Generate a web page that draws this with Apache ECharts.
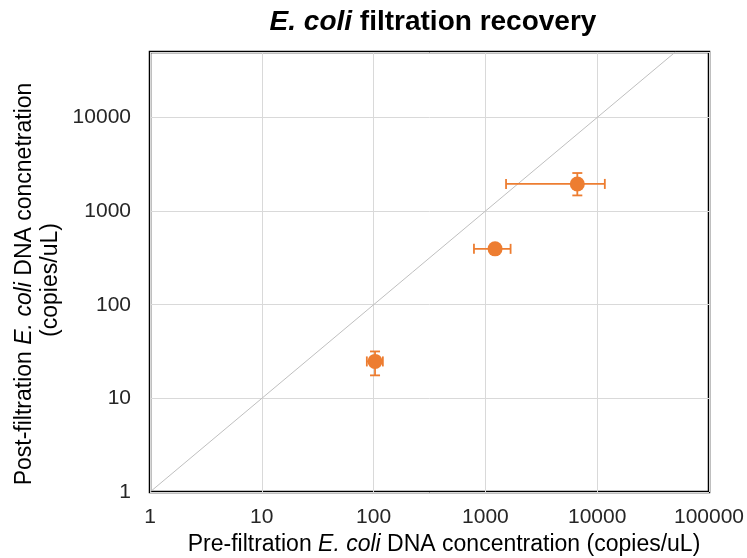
<!DOCTYPE html>
<html><head><meta charset="utf-8">
<script src="https://cdn.jsdelivr.net/npm/echarts@6/dist/echarts.min.js"></script>
<style>html,body{margin:0;padding:0;background:#fff}#c{width:747px;height:558px}</style>
</head><body><div id="c"></div>
<script>
// Data
const preConc  = [103, 1220, 6640];
const preLow   = [87, 790, 1530];
const preHigh  = [121, 1680, 11700];
const postConc = [24.8, 395, 1950];
const postLow  = [17.6, 380, 1470];
const postHigh = [31.7, 410, 2550];
const xTickLabels = ['1','10','100','1000','10000','100000'];
const yTickLabels = ['1','10','100','1000','10000'];
const identityLine = [[1, 1], [50000, 50000]];

const orange = '#ED7D31';
const font = 'Liberation Sans, Arial, sans-serif';
const txt = '#262626';

const pts = preConc.map((x, i) => [x, postConc[i]]);
const errData = preConc.map((x, i) => [x, postConc[i], preLow[i], preHigh[i], postLow[i], postHigh[i]]);

const chart = echarts.init(document.getElementById('c'));
const isPow10 = v => { const l = Math.log10(v); return Math.abs(l - Math.round(l)) < 1e-6; };

const nameRich = {
  n: { fontFamily: font, fontSize: 23, color: txt },
  i: { fontFamily: font, fontSize: 23, color: txt, fontStyle: 'italic' }
};

chart.setOption({
  animation: false,
  graphic: [
    { type: 'text', x: 433, y: 22, silent: true,
      style: { text: '{i|E. coli}{b| filtration recovery}', align: 'center', verticalAlign: 'middle',
        rich: {
          i: { fontFamily: font, fontSize: 28, fontWeight: 'bold', fontStyle: 'italic', fill: '#000' },
          b: { fontFamily: font, fontSize: 28, fontWeight: 'bold', fill: '#000' }
        } } },
    { type: 'text', x: 444, y: 545, silent: true,
      style: { text: '{n|Pre-filtration }{i|E. coli}{n| DNA concentration (copies/uL)}', align: 'center', verticalAlign: 'middle', rich: nameRich } },
    { type: 'text', x: 25, y: 284, rotation: Math.PI / 2, silent: true,
      style: { text: '{n|Post-filtration }{i|E. coli}{n| DNA concnetration}', align: 'center', verticalAlign: 'middle', rich: nameRich } },
    { type: 'text', x: 51, y: 280, rotation: Math.PI / 2, silent: true,
      style: { text: '{n|(copies/uL)}', align: 'center', verticalAlign: 'middle', rich: nameRich } }
  ],
  grid: { left: 150, right: 38, top: 52, bottom: 66, outerBoundsMode: 'none', containLabel: false,
    show: true, borderColor: '#000', borderWidth: 2.5, backgroundColor: 'transparent' },
  xAxis: {
    type: 'log', logBase: 10, min: 1, max: 100000,
    axisLine: { show: false }, axisTick: { show: false },
    splitLine: { show: true, lineStyle: { color: '#D9D9D9', width: 1 } },
    axisLabel: {
      fontFamily: font, fontSize: 21, color: txt, margin: 15,
      formatter: v => { const s = String(Math.round(v)); return xTickLabels.includes(s) ? s : ''; }
    }
  },
  yAxis: {
    type: 'log', logBase: 10, min: 1, max: 50000,
    axisLine: { show: false }, axisTick: { show: false },
    splitLine: { show: true, lineStyle: { color: '#D9D9D9', width: 1 } },
    axisLabel: {
      fontFamily: font, fontSize: 21, color: txt, margin: 19, showMaxLabel: false,
      formatter: v => { const s = String(Math.round(v)); return (isPow10(v) && yTickLabels.includes(s)) ? s : ''; }
    }
  },
  series: [
    {
      type: 'line', data: identityLine, symbol: 'none', silent: true,
      lineStyle: { color: '#BFBFBF', width: 1 }, z: 1
    },
    {
      type: 'custom', data: errData, z: 3,
      renderItem: (params, api) => {
        const y = api.value(1), x = api.value(0);
        const xl = api.coord([api.value(2), y]), xh = api.coord([api.value(3), y]);
        const yl = api.coord([x, api.value(4)]), yh = api.coord([x, api.value(5)]);
        const cap = 5;
        const st = { stroke: orange, lineWidth: 1.8 };
        const L = (x1, y1, x2, y2) => ({ type: 'line', shape: { x1, y1, x2, y2 }, style: st });
        return { type: 'group', children: [
          L(xl[0], xl[1], xh[0], xh[1]),
          L(xl[0], xl[1] - cap, xl[0], xl[1] + cap),
          L(xh[0], xh[1] - cap, xh[0], xh[1] + cap),
          L(yl[0], yl[1], yh[0], yh[1]),
          L(yl[0] - cap, yl[1], yl[0] + cap, yl[1]),
          L(yh[0] - cap, yh[1], yh[0] + cap, yh[1])
        ] };
      }
    },
    {
      type: 'scatter', data: pts, symbol: 'circle', symbolSize: 15, z: 4,
      itemStyle: { color: orange, opacity: 1 }
    }
  ]
});
</script></body></html>
